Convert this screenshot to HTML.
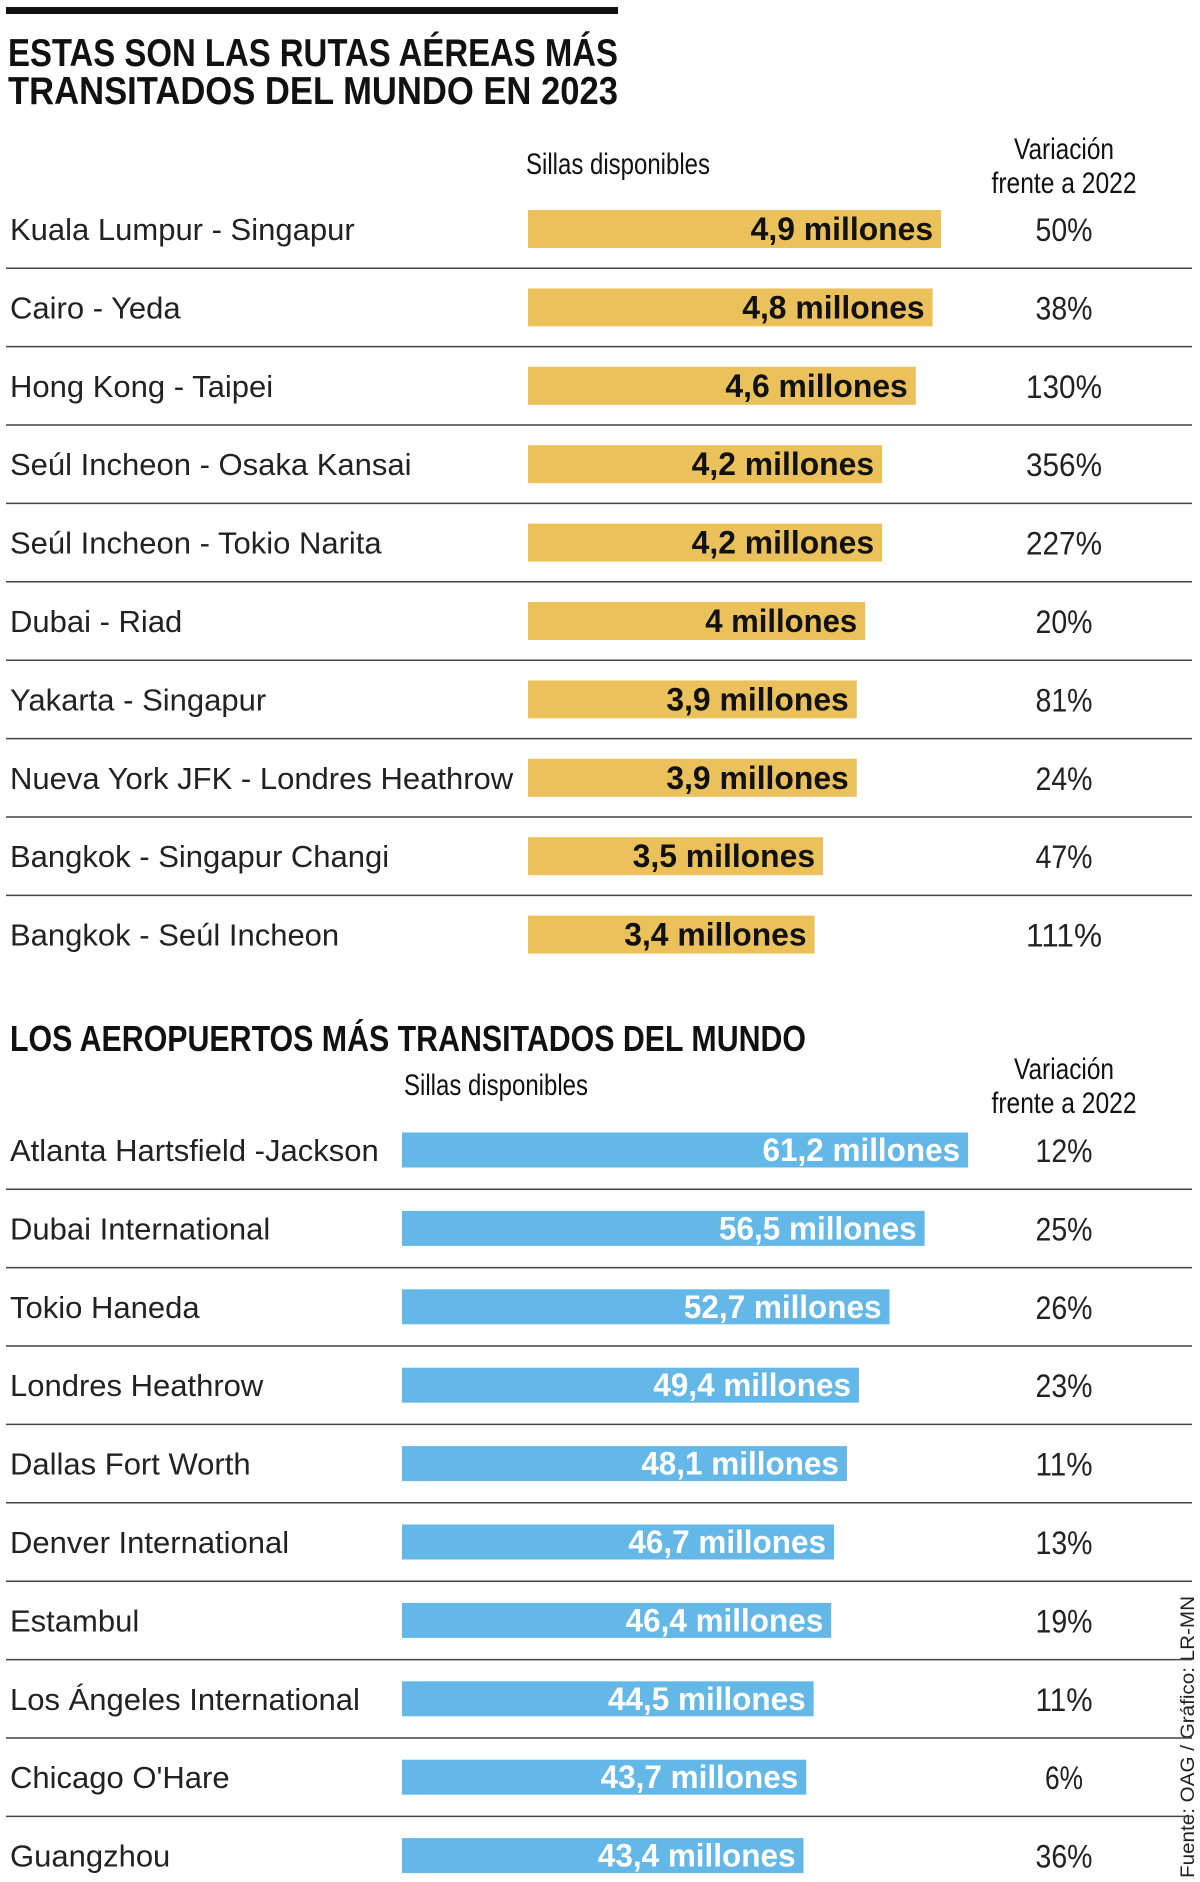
<!DOCTYPE html>
<html><head><meta charset="utf-8"><style>
html,body{margin:0;padding:0;background:#fff;}
svg{display:block;font-family:"Liberation Sans",sans-serif;}
</style></head><body>
<svg id="chart" width="1200" height="1882" viewBox="0 0 1200 1882" xmlns="http://www.w3.org/2000/svg">
<rect x="6" y="7" width="612" height="7" fill="#111"/>
<text x="8" y="66" font-size="39" font-weight="bold" fill="#111" textLength="610" lengthAdjust="spacingAndGlyphs">ESTAS SON LAS RUTAS AÉREAS MÁS</text>
<text x="8" y="104" font-size="39" font-weight="bold" fill="#111" textLength="610" lengthAdjust="spacingAndGlyphs">TRANSITADOS DEL MUNDO EN 2023</text>
<text x="526" y="174" font-size="30" fill="#111" textLength="184" lengthAdjust="spacingAndGlyphs">Sillas disponibles</text>
<text x="1064" y="159" font-size="30" fill="#111" text-anchor="middle" textLength="100" lengthAdjust="spacingAndGlyphs">Variación</text>
<text x="1064" y="193" font-size="30" fill="#111" text-anchor="middle" textLength="145" lengthAdjust="spacingAndGlyphs">frente a 2022</text>
<text x="10" y="1051" font-size="36" font-weight="bold" fill="#111" textLength="796" lengthAdjust="spacingAndGlyphs">LOS AEROPUERTOS MÁS TRANSITADOS DEL MUNDO</text>
<text x="404" y="1095" font-size="30" fill="#111" textLength="184" lengthAdjust="spacingAndGlyphs">Sillas disponibles</text>
<text x="1064" y="1079" font-size="30" fill="#111" text-anchor="middle" textLength="100" lengthAdjust="spacingAndGlyphs">Variación</text>
<text x="1064" y="1113" font-size="30" fill="#111" text-anchor="middle" textLength="145" lengthAdjust="spacingAndGlyphs">frente a 2022</text>
<text transform="translate(1194,1878) rotate(-90)" font-size="19" fill="#222" textLength="282" lengthAdjust="spacingAndGlyphs">Fuente: OAG / Gráfico: LR-MN</text>
<g id="routes"></g>
<g id="airports"></g>
</svg>
<script>
const routeNames = ["Kuala Lumpur - Singapur","Cairo - Yeda","Hong Kong - Taipei","Seúl Incheon - Osaka Kansai","Seúl Incheon - Tokio Narita","Dubai - Riad","Yakarta - Singapur","Nueva York  JFK - Londres Heathrow","Bangkok - Singapur Changi","Bangkok - Seúl Incheon"];
const routeSeats = [4.9,4.8,4.6,4.2,4.2,4.0,3.9,3.9,3.5,3.4];
const routeLabels = ["4,9 millones","4,8 millones","4,6 millones","4,2 millones","4,2 millones","4 millones","3,9 millones","3,9 millones","3,5 millones","3,4 millones"];
const routeVar = ["50%","38%","130%","356%","227%","20%","81%","24%","47%","111%"];

const airportNames = ["Atlanta Hartsfield -Jackson","Dubai International","Tokio Haneda","Londres Heathrow","Dallas Fort Worth","Denver International","Estambul","Los Ángeles International","Chicago O'Hare","Guangzhou"];
const airportSeats = [61.2,56.5,52.7,49.4,48.1,46.7,46.4,44.5,43.7,43.4];
const airportLabels = ["61,2 millones","56,5 millones","52,7 millones","49,4 millones","48,1 millones","46,7 millones","46,4 millones","44,5 millones","43,7 millones","43,4 millones"];
const airportVar = ["12%","25%","26%","23%","11%","13%","19%","11%","6%","36%"];

const NS = "http://www.w3.org/2000/svg";
function mk(tag, attrs, parent, txt){
  const e = document.createElementNS(NS, tag);
  for (const k in attrs) e.setAttribute(k, attrs[k]);
  if (txt !== undefined) e.textContent = txt;
  parent.appendChild(e);
  return e;
}
function draw(gid, names, vals, labels, vars, x0, pxPer, firstY, barH, color, labColor, prefix){
  const g = document.getElementById(gid);
  const step = 78.4;
  const xs = v => x0 + v * pxPer;
  const ys = i => firstY + i * step;
  names.forEach((n, i) => {
    const cy = ys(i);
    const t = mk('text', {x: 10, y: cy + 11, 'font-size': 31, fill: '#222'}, g, n);
    
    
    const r = mk('rect', {x: x0, y: cy - barH/2, width: xs(vals[i]) - x0, height: barH, fill: color}, g);
    
    
    const lab = labels[i];
    const l = mk('text', {x: xs(vals[i]) - 8, y: cy + 11, 'font-size': 32, 'font-weight': 'bold', fill: labColor, 'text-anchor': 'end', textLength: lab.length * 15.2, lengthAdjust: 'spacingAndGlyphs'}, g, lab);
    
    
    const v = mk('text', {x: 1064, y: cy + 12, 'font-size': 32, fill: '#222', 'text-anchor': 'middle', textLength: vars[i].length * 19, lengthAdjust: 'spacingAndGlyphs'}, g, vars[i]);
    
    
    if (i < names.length - 1) {
      const ln = mk('line', {x1: 6, x2: 1192, y1: cy + step/2, y2: cy + step/2, stroke: '#444', 'stroke-width': 1.5}, g);
      
      
    }
  });
}
draw('routes', routeNames, routeSeats, routeLabels, routeVar, 528, 84.3, 229, 38, '#ebc15c', '#111', 'route');
draw('airports', airportNames, airportSeats, airportLabels, airportVar, 402, 9.25, 1150, 35, '#63b8e8', '#fff', 'airport');
</script>
</body></html>
